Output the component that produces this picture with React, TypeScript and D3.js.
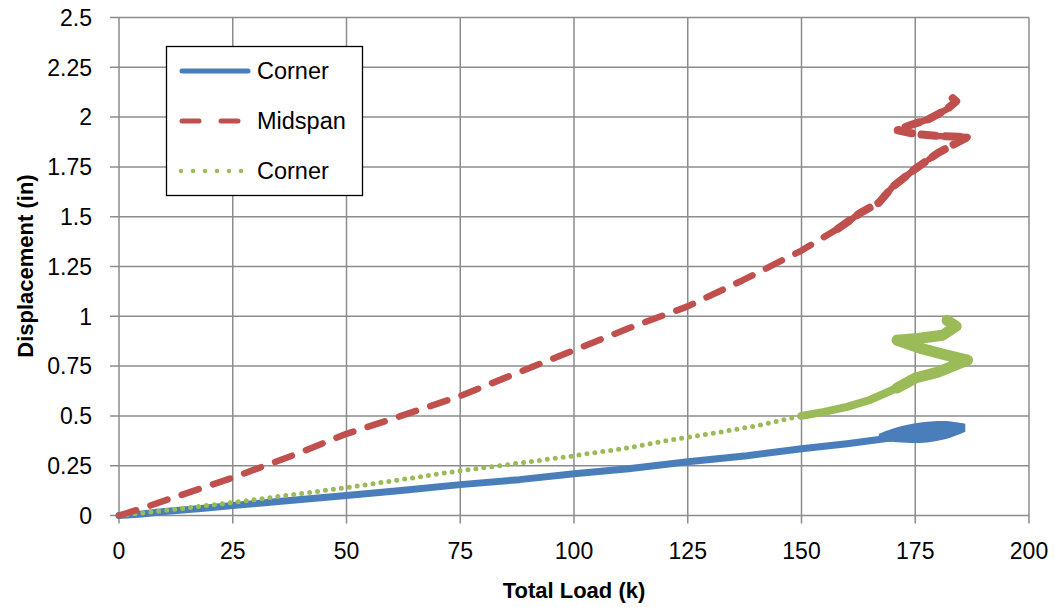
import React from "react";
import * as d3 from "d3";

// Corner (solid blue)
const blueLoad = [0, 5, 10, 18, 25, 35, 50, 62, 75, 88, 100, 112, 125, 138, 150, 160, 170, 175, 180, 185];
const blueDisp = [0, 0.008, 0.02, 0.035, 0.05, 0.07, 0.1, 0.125, 0.155, 0.18, 0.21, 0.235, 0.27, 0.3, 0.335, 0.36, 0.39, 0.41, 0.43, 0.44];
// scatter envelope of the corner gauge near peak load
const blueBandLoad = [167, 171, 175, 179, 183, 186];
const blueBandLow = [0.37, 0.37, 0.36, 0.37, 0.39, 0.42];
const blueBandHigh = [0.41, 0.445, 0.465, 0.475, 0.475, 0.46];

// Midspan (dashed red)
const redLoad = [0, 5, 12, 25, 38, 50, 62, 75, 88, 100, 112, 125, 137, 150, 158, 163, 167, 170, 175, 180, 186.5, 180, 175, 171, 174, 178, 182, 184, 182.5];
const redDisp = [0, 0.035, 0.09, 0.19, 0.3, 0.41, 0.5, 0.6, 0.72, 0.83, 0.94, 1.05, 1.18, 1.33, 1.44, 1.52, 1.57, 1.65, 1.74, 1.82, 1.9, 1.905, 1.915, 1.935, 1.96, 1.99, 2.04, 2.08, 2.11];

// Corner (dotted green)
const greenLoad = [0, 10, 25, 40, 50, 62, 75, 87, 100, 112, 120, 130, 140, 150, 155, 160, 165, 171, 175, 180, 186.5, 181, 176, 171, 176, 181, 184, 182];
const greenDisp = [0, 0.025, 0.065, 0.11, 0.14, 0.18, 0.225, 0.26, 0.3, 0.34, 0.375, 0.41, 0.45, 0.5, 0.52, 0.545, 0.58, 0.64, 0.69, 0.72, 0.78, 0.81, 0.84, 0.88, 0.89, 0.905, 0.95, 0.98];

const xTicks = [0, 25, 50, 75, 100, 125, 150, 175, 200];
const yTicks = [0, 0.25, 0.5, 0.75, 1, 1.25, 1.5, 1.75, 2, 2.25, 2.5];

const legendItems = [
  { label: "Corner", color: "#4a7ebb", kind: "solid" },
  { label: "Midspan", color: "#c0504d", kind: "dash" },
  { label: "Corner", color: "#9bbb59", kind: "dot" },
];

const W = 1055;
const H = 607;
const font = "'Liberation Sans', Arial, sans-serif";

const App = () => {
  const x = d3.scaleLinear().domain([0, 200]).range([119, 1029]);
  const y = d3.scaleLinear().domain([0, 2.5]).range([515.5, 17.5]);
  const grid = "#8c8c8c";

  const line = d3
    .line<[number, number]>()
    .x((d) => x(d[0]))
    .y((d) => y(d[1]))
    .curve(d3.curveLinear);

  const zip = (a: number[], b: number[]) => a.map((v, i) => [v, b[i]] as [number, number]);
  const blue = zip(blueLoad, blueDisp);
  const red = zip(redLoad, redDisp);
  const green = zip(greenLoad, greenDisp);
  const greenDenseStart = green.findIndex((d) => d[0] >= 148);
  const greenPeakStart = green.findIndex((d) => d[0] >= 168);
  const redDenseStart = red.findIndex((d) => d[0] >= 158);

  const band = d3
    .area<number>()
    .x((_, i) => x(blueBandLoad[i]))
    .y0((_, i) => y(blueBandLow[i]))
    .y1((_, i) => y(blueBandHigh[i]))
    .curve(d3.curveBasis);

  return (
    <svg width={W} height={H} style={{ display: "block", position: "absolute", left: 0, top: 0 }}>
      <rect width={W} height={H} fill="#fff" />
      {/* grid */}
      {xTicks.map((t) => (
        <line key={"gx" + t} x1={x(t)} x2={x(t)} y1={y(2.5)} y2={y(0) + 8} stroke={grid} strokeWidth={1.5} />
      ))}
      {yTicks.map((t) => (
        <line key={"gy" + t} x1={x(0) - 9} x2={x(200)} y1={y(t)} y2={y(t)} stroke={grid} strokeWidth={1.5} />
      ))}
      {/* tick labels */}
      {xTicks.map((t) => (
        <text key={"tx" + t} x={x(t)} y={558.5} textAnchor="middle" fontFamily={font} fontSize={23}>
          {t}
        </text>
      ))}
      {yTicks.map((t) => (
        <text key={"ty" + t} x={92} y={y(t) + 8.3} textAnchor="end" fontFamily={font} fontSize={23}>
          {t}
        </text>
      ))}
      {/* axis titles */}
      <text x={574} y={598} textAnchor="middle" fontFamily={font} fontSize={22} fontWeight="bold">
        Total Load (k)
      </text>
      <text
        transform={`translate(33, 266) rotate(-90)`}
        textAnchor="middle"
        fontFamily={font}
        fontSize={22}
        fontWeight="bold"
      >
        Displacement (in)
      </text>

      {/* series */}
      <path d={band(blueBandLoad) || ""} fill="#4a7ebb" />
      <path d={line(blue) || ""} fill="none" stroke="#4a7ebb" strokeWidth={7} strokeLinejoin="round" strokeLinecap="round" />
      <path
        d={line(green) || ""}
        fill="none"
        stroke="#9bbb59"
        strokeWidth={5}
        strokeDasharray="0 8"
        strokeLinecap="round"
      />
      <path
        d={line(green.slice(greenDenseStart)) || ""}
        fill="none"
        stroke="#9bbb59"
        strokeWidth={8}
        strokeLinejoin="round"
        strokeLinecap="round"
      />
      <path
        d={line(green.slice(greenPeakStart)) || ""}
        fill="none"
        stroke="#9bbb59"
        strokeWidth={11}
        strokeLinejoin="round"
        strokeLinecap="round"
      />
      <path
        d={line(red) || ""}
        fill="none"
        stroke="#c0504d"
        strokeWidth={6.5}
        strokeDasharray="18 15"
        strokeLinecap="round"
        strokeLinejoin="round"
      />
      <path
        d={line(red.slice(redDenseStart)) || ""}
        fill="none"
        stroke="#c0504d"
        strokeWidth={8}
        strokeDasharray="14 10"
        strokeLinecap="round"
        strokeLinejoin="round"
      />

      {/* legend */}
      <rect x={166.5} y={46.5} width={196} height={149} fill="#fff" stroke="#000" strokeWidth={1.3} />
      {legendItems.map((d, i) => {
        const ly = 71 + i * 50;
        return (
          <g key={i}>
            {d.kind === "solid" && (
              <line x1={182} x2={248} y1={ly} y2={ly} stroke={d.color} strokeWidth={5} strokeLinecap="round" />
            )}
            {d.kind === "dash" && (
              <line x1={182} x2={241} y1={ly} y2={ly} stroke={d.color} strokeWidth={5} strokeLinecap="round" strokeDasharray="17 22" />
            )}
            {d.kind === "dot" && (
              <line x1={181} x2={242} y1={ly} y2={ly} stroke={d.color} strokeWidth={4.5} strokeLinecap="round" strokeDasharray="0 12" />
            )}
            <text x={257} y={ly + 8} fontFamily={font} fontSize={23.5}>
              {d.label}
            </text>
          </g>
        );
      })}
    </svg>
  );
};

export default App;
